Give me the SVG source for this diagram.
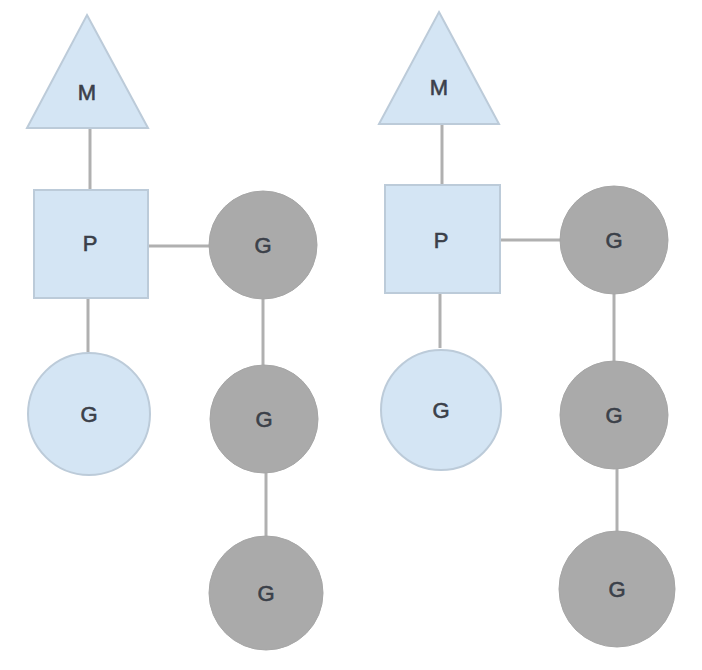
<svg xmlns="http://www.w3.org/2000/svg" width="702" height="670" viewBox="0 0 702 670">
<style>
.blue{fill:#d4e5f4;stroke:#bccbd9;stroke-width:2}
.gray{fill:#aaaaaa;stroke:#a6a6a6;stroke-width:1}
.lbl{font-family:"Liberation Sans",Arial,sans-serif;font-size:22px;fill:#3b4049;stroke:#3b4049;stroke-width:0.6;text-anchor:middle;dominant-baseline:central}
.conn line{stroke:#b0b0b0;stroke-width:3}
</style>
<rect width="702" height="670" fill="#ffffff"/>
<g class="conn" id="connectors">
<line x1="90" y1="128" x2="90" y2="190"/>
<line x1="148" y1="246" x2="210" y2="246"/>
<line x1="88" y1="298" x2="88" y2="352"/>
<line x1="263" y1="299" x2="263" y2="365"/>
<line x1="266" y1="472" x2="266" y2="537"/>
<line x1="442" y1="124" x2="442" y2="185"/>
<line x1="500" y1="240" x2="562" y2="240"/>
<line x1="440" y1="293" x2="440" y2="348"/>
<line x1="614" y1="294" x2="614" y2="362"/>
<line x1="617" y1="467" x2="617" y2="532"/>
</g>
<g id="m1"><polygon class="blue" points="87,15 148,128 27,128"/><text class="lbl" x="87" y="92">M</text></g>
<g id="p1"><rect class="blue" x="34" y="190" width="114" height="108"/><text class="lbl" x="90" y="243">P</text></g>
<g id="g1"><circle class="blue" cx="89" cy="414" r="61"/><text class="lbl" x="89" y="414">G</text></g>
<g id="g2"><circle class="gray" cx="263" cy="245" r="54"/><text class="lbl" x="263" y="245">G</text></g>
<g id="g3"><circle class="gray" cx="264" cy="419" r="54"/><text class="lbl" x="264" y="419">G</text></g>
<g id="g4"><circle class="gray" cx="266" cy="593" r="57"/><text class="lbl" x="266" y="593">G</text></g>
<g id="m2"><polygon class="blue" points="439,12 499,124 379,124"/><text class="lbl" x="439" y="87">M</text></g>
<g id="p2"><rect class="blue" x="385" y="185" width="115" height="108"/><text class="lbl" x="441" y="240">P</text></g>
<g id="g5"><circle class="blue" cx="441" cy="410" r="60"/><text class="lbl" x="441" y="410">G</text></g>
<g id="g6"><circle class="gray" cx="614" cy="240" r="54"/><text class="lbl" x="614" y="240">G</text></g>
<g id="g7"><circle class="gray" cx="614" cy="415" r="54"/><text class="lbl" x="614" y="415">G</text></g>
<g id="g8"><circle class="gray" cx="617" cy="589" r="58"/><text class="lbl" x="617" y="589">G</text></g>
</svg>
